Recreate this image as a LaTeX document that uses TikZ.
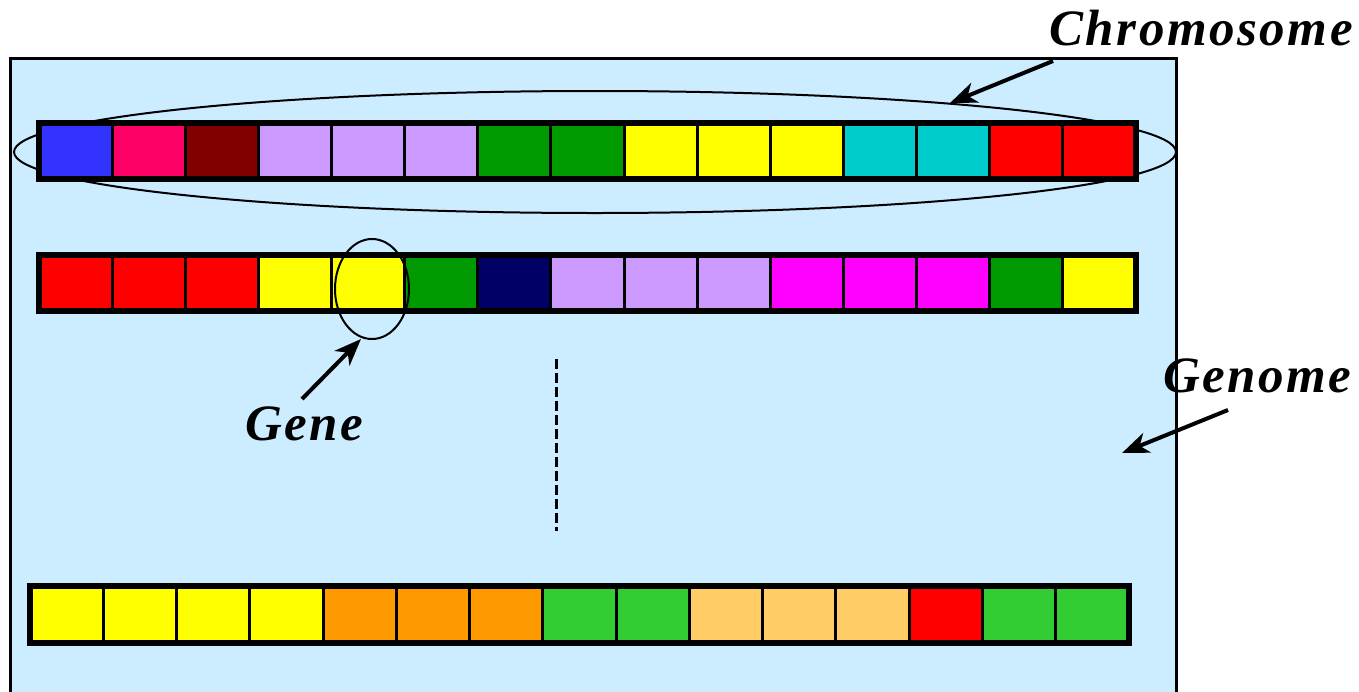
\documentclass[tikz,border=0pt]{standalone}
\usepackage{fontspec}
\setmainfont{Liberation Serif}
\newfontfamily\lblfont[LetterSpace=5]{Liberation Serif}
\usetikzlibrary{arrows.meta,shapes.geometric}
\definecolor{bg}{HTML}{CCECFF}
\definecolor{cblue}{HTML}{3333FF}
\definecolor{cpink}{HTML}{FF0066}
\definecolor{cmaroon}{HTML}{800000}
\definecolor{clav}{HTML}{CC99FF}
\definecolor{cgreen}{HTML}{009900}
\definecolor{cyel}{HTML}{FFFF00}
\definecolor{ccyan}{HTML}{00CCCC}
\definecolor{cred}{HTML}{FF0000}
\definecolor{cnavy}{HTML}{000066}
\definecolor{cmag}{HTML}{FF00FF}
\definecolor{corange}{HTML}{FF9900}
\definecolor{clime}{HTML}{33CC33}
\definecolor{clorange}{HTML}{FFCC66}
\tikzset{
  cell/.style={draw, line width=3pt, minimum width=73.13pt, minimum height=56pt, inner sep=0pt, outer sep=0pt, anchor=west},
  cell3/.style={cell, minimum width=73.27pt, minimum height=57pt},
  rowframe/.style={draw, line width=6pt},
  thinellipse/.style={draw, ellipse, line width=2pt, inner sep=0pt},
  lbl/.style={font=\lblfont\fontsize{51}{51}\selectfont\bfseries\itshape, inner sep=0pt, anchor=base west},
  pointer/.style={line width=4pt, -{Stealth[length=27pt, width=21pt, inset=8pt]}}
}
\begin{document}
\begin{tikzpicture}[x=1pt,y=-1pt]
\useasboundingbox (0,0) rectangle (1359,691);
\draw[line width=3pt, fill=bg] (10.5,58) rectangle (1176,720);
% chromosome outline ellipse
\node[thinellipse, minimum width=1162pt, minimum height=122pt] (chromo) at (595,152) {};
% row 1
\foreach \c [count=\i from 0] in {cblue,cpink,cmaroon,clav,clav,clav,cgreen,cgreen,cyel,cyel,cyel,ccyan,ccyan,cred,cred}
  \node[cell, fill=\c] (a\i) at (39+\i*73.13,151) {};
\draw[rowframe] (a0.north west) rectangle (a14.south east);
% row 2
\foreach \c [count=\i from 0] in {cred,cred,cred,cyel,cyel,cgreen,cnavy,clav,clav,clav,cmag,cmag,cmag,cgreen,cyel}
  \node[cell, fill=\c] (b\i) at (39+\i*73.13,283) {};
\draw[rowframe] (b0.north west) rectangle (b14.south east);
% row 3
\foreach \c [count=\i from 0] in {cyel,cyel,cyel,cyel,corange,corange,corange,clime,clime,clorange,clorange,clorange,cred,clime,clime}
  \node[cell3, fill=\c] (c\i) at (30+\i*73.27,614.5) {};
\draw[rowframe] (c0.north west) rectangle (c14.south east);
% gene ellipse
\node[thinellipse, minimum width=74pt, minimum height=100pt] (gene) at (372,289) {};
% dashed continuation
\coordinate (d1) at (556.5,359);
\coordinate (d2) at (556.5,531);
\draw[line width=3pt, dash pattern=on 10pt off 4pt] (d1) -- (d2);
% labels
\node[lbl] (lchromo) at (1049,45) {Chromosome};
\node[lbl] (lgene) at (245,440) {Gene};
\node[lbl] (lgenome) at (1163,392) {Genome};
% arrows
\coordinate (sc) at (1053,61);
\coordinate (tc) at (950,103);
\coordinate (sg) at (302,399);
\coordinate (tg) at (361,339);
\coordinate (sn) at (1228,410);
\coordinate (tn) at (1122,453);
\draw[pointer] (sc) -- (tc);
\draw[pointer] (sg) -- (tg);
\draw[pointer] (sn) -- (tn);
\end{tikzpicture}
\end{document}
